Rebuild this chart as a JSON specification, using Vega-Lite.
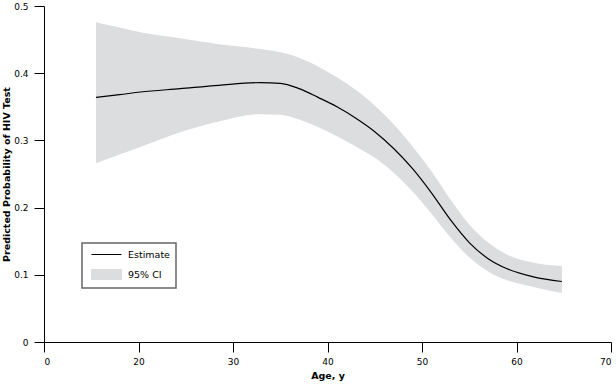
{
  "$schema": "https://vega.github.io/schema/vega-lite/v6.json",
  "autosize": "none",
  "width": 567,
  "height": 336,
  "padding": {"left": 44, "top": 6, "right": 5, "bottom": 43},
  "config": {
    "view": {"stroke": null},
    "font": "DejaVu Sans",
    "legend": {"strokeWidth": 1.5},
    "axis": {
      "grid": false,
      "domainColor": "black",
      "tickColor": "black",
      "tickSize": 10,
      "labelColor": "black",
      "labelFont": "DejaVu Sans",
      "labelFontSize": 9,
      "titleFont": "DejaVu Sans",
      "titleFontSize": 9.5,
      "titleFontWeight": "bold",
      "titleColor": "black"
    }
  },
  "data": {
    "values": [
      {"age": 15.5, "est": 0.364, "lo": 0.266, "hi": 0.476},
      {"age": 18.0, "est": 0.368, "lo": 0.279, "hi": 0.468},
      {"age": 20.2, "est": 0.372, "lo": 0.290, "hi": 0.461},
      {"age": 24.4, "est": 0.377, "lo": 0.312, "hi": 0.452},
      {"age": 28.5, "est": 0.382, "lo": 0.328, "hi": 0.443},
      {"age": 32.9, "est": 0.386, "lo": 0.339, "hi": 0.436},
      {"age": 35.0, "est": 0.385, "lo": 0.338, "hi": 0.431},
      {"age": 37.0, "est": 0.377, "lo": 0.331, "hi": 0.423},
      {"age": 39.0, "est": 0.364, "lo": 0.320, "hi": 0.410},
      {"age": 41.0, "est": 0.350, "lo": 0.306, "hi": 0.394},
      {"age": 43.0, "est": 0.333, "lo": 0.291, "hi": 0.375},
      {"age": 45.0, "est": 0.313, "lo": 0.274, "hi": 0.352},
      {"age": 47.0, "est": 0.288, "lo": 0.252, "hi": 0.324},
      {"age": 49.0, "est": 0.258, "lo": 0.224, "hi": 0.291},
      {"age": 51.0, "est": 0.222, "lo": 0.191, "hi": 0.254},
      {"age": 53.0, "est": 0.182, "lo": 0.156, "hi": 0.212},
      {"age": 55.0, "est": 0.148, "lo": 0.126, "hi": 0.175},
      {"age": 57.0, "est": 0.124, "lo": 0.105, "hi": 0.148},
      {"age": 59.0, "est": 0.109, "lo": 0.092, "hi": 0.130},
      {"age": 61.8, "est": 0.097, "lo": 0.082, "hi": 0.118},
      {"age": 64.8, "est": 0.090, "lo": 0.073, "hi": 0.113}
    ]
  },
  "encoding": {
    "x": {
      "field": "age",
      "type": "quantitative",
      "scale": {"domain": [10, 70], "nice": false, "zero": false},
      "axis": {
        "title": "Age, y",
        "values": [10, 20, 30, 40, 50, 60, 70],
        "labelExpr": "datum.value == 10 ? '0' : datum.label",
        "labelPadding": 5,
        "titlePadding": 4
      }
    }
  },
  "layer": [
    {
      "mark": {"type": "area", "interpolate": "monotone", "opacity": 1},
      "encoding": {
        "y": {
          "field": "lo",
          "type": "quantitative",
          "scale": {"domain": [0, 0.5], "nice": false},
          "axis": {
            "title": "Predicted Probability of HIV Test",
            "values": [0, 0.1, 0.2, 0.3, 0.4, 0.5],
            "labelExpr": "datum.value == 0 ? '0' : format(datum.value, '.1f')",
            "labelPadding": 6,
            "titleX": -33
          }
        },
        "y2": {"field": "hi"},
        "color": {
          "datum": "95% CI",
          "scale": {"domain": ["Estimate", "95% CI"], "range": ["#000000", "#dcdddf"]},
          "legend": {
            "title": null,
            "orient": "none",
            "legendX": 38,
            "legendY": 237,
            "padding": 6,
            "strokeColor": "#666666",
            "fillColor": "white",
            "labelFont": "DejaVu Sans",
            "labelFontSize": 9.5,
            "labelColor": "black",
            "symbolSize": 100,
            "labelOffset": 29,
            "rowPadding": 8,
            "symbolType": {"expr": "datum.value === 'Estimate' ? 'M-0.4,0H5.6' : 'M-0.4,-1H5.6V1H-0.4Z'"},
            "symbolFillColor": {"expr": "datum.value === 'Estimate' ? 'transparent' : '#dcdddf'"},
            "symbolStrokeColor": {"expr": "datum.value === 'Estimate' ? '#000000' : '#888888'"},
            "symbolStrokeWidth": 1,
            "symbolOpacity": 1
          }
        }
      }
    },
    {
      "mark": {"type": "line", "interpolate": "monotone", "strokeWidth": 1.2},
      "encoding": {
        "y": {"field": "est", "type": "quantitative"},
        "color": {"datum": "Estimate"}
      }
    }
  ],
  "resolve": {"scale": {"color": "shared"}}
}
